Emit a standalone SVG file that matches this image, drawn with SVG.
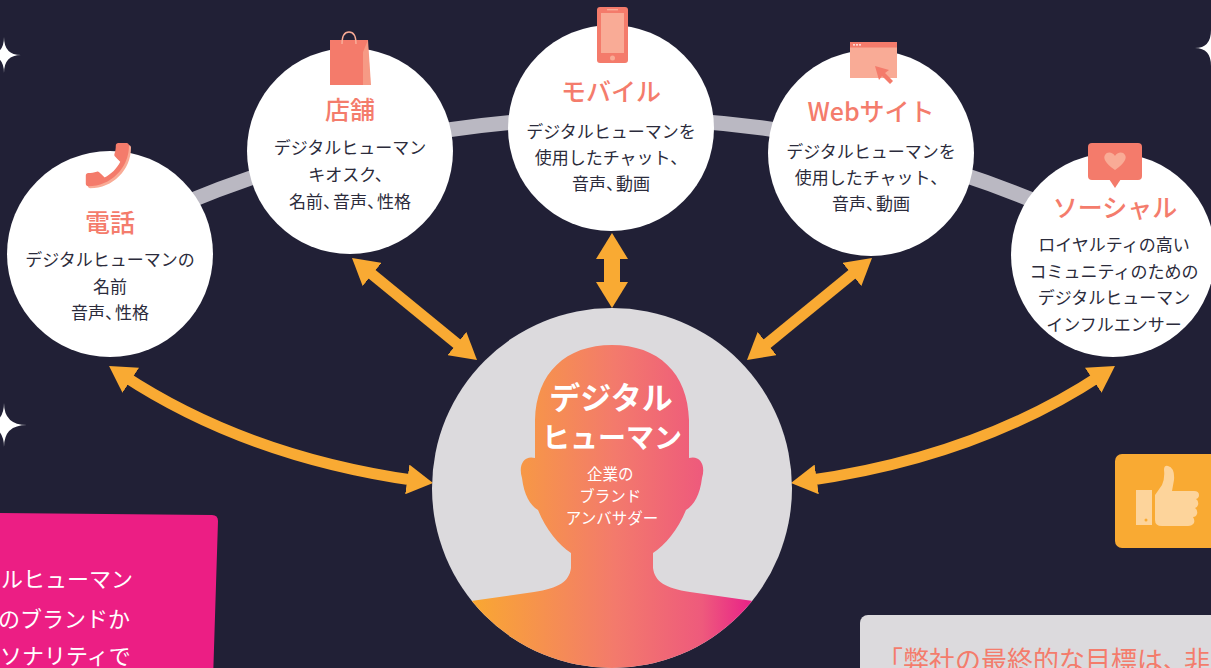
<svg xmlns="http://www.w3.org/2000/svg" width="1211" height="668" viewBox="0 0 1211 668">
  <defs>
    <style>
      .sat { fill: #ffffff; }
      .title { font-family: "Noto Sans CJK JP", "Noto Sans", sans-serif; font-size: 25px; font-weight: 500; fill: #f47c6c; text-anchor: middle; }
      .body { font-family: "Noto Sans CJK JP", "Noto Sans", sans-serif; font-size: 17px; fill: #2b2b3b; text-anchor: middle; }
      .pn { letter-spacing: -7px; }
      .link { fill: none; stroke: #f9aa33; stroke-width: 11; }
      .ico { fill: #f47b6b; }
      .ico-l { fill: #f9ab96; }
      .star { fill: #ffffff; }
    </style>
    <marker id="head" viewBox="0 0 26 30" markerWidth="26" markerHeight="30" markerUnits="userSpaceOnUse" refX="10" refY="15" orient="auto-start-reverse">
      <path d="M0,0 L26,15 L0,30 Z" fill="#f9aa33"/>
    </marker>
    <marker id="head-wide" viewBox="0 0 26 32" markerWidth="26" markerHeight="32" markerUnits="userSpaceOnUse" refX="8" refY="16" orient="auto-start-reverse">
      <path d="M0,0 L26,16 L0,32 Z" fill="#f9aa33"/>
    </marker>
    <linearGradient id="bust" gradientUnits="userSpaceOnUse" x1="470" y1="0" x2="760" y2="0">
      <stop offset="0" stop-color="#f9a831"/>
      <stop offset="0.5" stop-color="#f37a6c"/>
      <stop offset="0.8" stop-color="#ee5a7c"/>
      <stop offset="1" stop-color="#e8188a"/>
    </linearGradient>
    <clipPath id="hub-clip">
      <circle cx="612" cy="488" r="180"/>
    </clipPath>
    <!-- telephone handset glyph (Material "call" outline) -->
    <path id="handset" d="M6.62 10.79c1.44 2.83 3.76 5.14 6.59 6.59l2.2-2.2c.27-.27.67-.36 1.02-.24 1.12.37 2.330.57 3.57.57.55 0 1 .45 1 1V20c0 .55-.45 1-1 1-9.39 0-17-7.610-17-17 0-.55.45-1 1-1h3.5c.55 0 1 .45 1 1 0 1.25.2 2.45.57 3.57.11.35.03.74-.25 1.020l-2.2 2.2z"/>
  </defs>

  <!-- backdrop -->
  <rect x="0" y="0" width="1211" height="668" fill="#212036"/>

  <!-- sparkles -->
  <path class="star" d="M4,37 Q4,55 21,55 Q4,55 4,73 Q4,55 -13,55 Q4,55 4,37 Z"/>
  <path class="star" d="M4,403 Q4,425 27,425 Q4,425 4,447 Q4,425 -19,425 Q4,425 4,403 Z"/>
  <path class="star" d="M1211,30 Q1211,48 1195,48 Q1211,48 1211,66 Z"/>

  <!-- ring that ties the channels together -->
  <path d="M 180 204.9 A 1117 1117 0 0 1 1044 204.9" fill="none" stroke="#bab8c2" stroke-width="15"/>

  <!-- connectors -->
  <g id="connectors">
    <path class="link" d="M 122.4 374.8 Q 247 457 417.2 480.8" marker-start="url(#head)" marker-end="url(#head)"/>
    <path class="link" d="M 364.4 268.1 L 464.6 349.9" marker-start="url(#head)" marker-end="url(#head)"/>
    <path class="link" d="M 612 251 L 612 290" style="stroke-width:16" marker-start="url(#head-wide)" marker-end="url(#head-wide)"/>
    <path class="link" d="M 859.6 268.1 L 759.4 349.9" marker-start="url(#head)" marker-end="url(#head)"/>
    <path class="link" d="M 1101.6 374.8 Q 977 457 806.8 480.8" marker-start="url(#head)" marker-end="url(#head)"/>
  </g>

  <!-- hub: digital human -->
  <g id="hub">
    <circle cx="612" cy="488" r="180" fill="#dcdadd"/>
    <path clip-path="url(#hub-clip)" fill="url(#bust)" d="M 612 345 C 658 345 688 373 689 420 L 689 458 C 700 455 706 465 702 478 C 700 495 694 505 686 510 C 678 530 665 545 653 553 L 653 568 C 655 582 665 588 690 592 L 760 602 L 760 700 L 464 700 L 464 602 L 534 592 C 559 588 569 582 571 568 L 571 553 C 559 545 546 530 538 510 C 530 505 524 495 522 478 C 518 465 524 455 535 458 L 535 420 C 536 373 566 345 612 345 Z"/>
    <text x="611" y="409" font-family="'Noto Sans CJK JP', sans-serif" font-size="31" font-weight="bold" fill="#ffffff" text-anchor="middle">デジタル</text>
    <text x="612" y="448" font-family="'Noto Sans CJK JP', sans-serif" font-size="28" font-weight="bold" fill="#ffffff" text-anchor="middle">ヒューマン</text>
    <text font-family="'Noto Sans CJK JP', sans-serif" font-size="15.5" fill="#ffffff" text-anchor="middle">
      <tspan x="612" y="480">企業の</tspan>
      <tspan x="612" y="502">ブランド</tspan>
      <tspan x="612" y="524">アンバサダー</tspan>
    </text>
  </g>

  <!-- channel: phone -->
  <g id="node-phone">
    <circle class="sat" cx="110" cy="254" r="103"/>
    <use href="#handset" fill="#f9ab96" transform="translate(138.2,137.8) scale(-2.4,2.4)"/>
    <use href="#handset" fill="#f47b6b" transform="translate(136.2,135.8) scale(-2.4,2.4)"/>
    <text class="title" x="110" y="232">電話</text>
    <text class="body"><tspan x="110" y="266">デジタルヒューマンの</tspan><tspan x="110" y="293">名前</tspan><tspan x="110" y="319">音声<tspan class="pn">、</tspan>性格</tspan></text>
  </g>

  <!-- channel: store -->
  <g id="node-store">
    <circle class="sat" cx="350" cy="151" r="103"/>
    <rect class="ico" x="330" y="40" width="38" height="45"/>
    <path d="M 363 52 L 368 40 L 371 85 L 363 85 Z" fill="#f69a85"/>
    <path d="M 342 44 Q 342 32 349 32 Q 356 32 356 44" fill="none" stroke="#f9ab96" stroke-width="1.5"/>
    <text class="title" x="350" y="119">店舗</text>
    <text class="body"><tspan x="350" y="154">デジタルヒューマン</tspan><tspan x="350" y="181">キオスク、</tspan><tspan x="350" y="208">名前<tspan class="pn">、</tspan>音声<tspan class="pn">、</tspan>性格</tspan></text>
  </g>

  <!-- channel: mobile -->
  <g id="node-mobile">
    <circle class="sat" cx="611" cy="128" r="103"/>
    <rect class="ico" x="597" y="7" width="31" height="56" rx="3"/>
    <rect class="ico-l" x="601" y="13" width="23" height="40"/>
    <rect class="ico-l" x="607" y="9" width="11" height="1.4"/>
    <circle class="ico-l" cx="612.5" cy="58" r="2.5"/>
    <text class="title" x="611" y="101">モバイル</text>
    <text class="body"><tspan x="611" y="138">デジタルヒューマンを</tspan><tspan x="611" y="164">使用したチャット、</tspan><tspan x="611" y="190">音声<tspan class="pn">、</tspan>動画</tspan></text>
  </g>

  <!-- channel: website -->
  <g id="node-web">
    <circle class="sat" cx="871" cy="153" r="103"/>
    <rect class="ico-l" x="850" y="42" width="47" height="36"/>
    <rect class="ico" x="850" y="42" width="47" height="5.5"/>
    <circle cx="854" cy="44.8" r="0.9" fill="#ffffff"/>
    <circle cx="857" cy="44.8" r="0.9" fill="#ffffff"/>
    <circle cx="860" cy="44.8" r="0.9" fill="#ffffff"/>
    <path class="ico" d="M 875 66 L 889 70 L 885 73 L 893 81 L 890 84 L 882 76 L 879 80 Z"/>
    <text class="title" x="871" y="121">Webサイト</text>
    <text class="body"><tspan x="871" y="158">デジタルヒューマンを</tspan><tspan x="871" y="184">使用したチャット、</tspan><tspan x="871" y="210">音声<tspan class="pn">、</tspan>動画</tspan></text>
  </g>

  <!-- channel: social -->
  <g id="node-social">
    <circle class="sat" cx="1113" cy="255" r="102"/>
    <rect class="ico" x="1088" y="143" width="54" height="37" rx="4"/>
    <path class="ico" d="M 1109 179 L 1121 179 L 1115 188 Z"/>
    <path class="ico-l" d="M 1115 170 C 1105 163 1103 158 1105 155 C 1107 151 1113 152 1115 156 C 1117 152 1123 151 1125 155 C 1127 158 1125 163 1115 170 Z"/>
    <text class="title" x="1115" y="217">ソーシャル</text>
    <text class="body"><tspan x="1114" y="251">ロイヤルティの高い</tspan><tspan x="1114" y="278">コミュニティのための</tspan><tspan x="1114" y="304">デジタルヒューマン</tspan><tspan x="1114" y="331">インフルエンサー</tspan></text>
  </g>

  <!-- pink caption card -->
  <g id="card-pink">
    <path d="M -10 513 L 212 515 Q 218 515 218 521 L 213 680 L -10 680 Z" fill="#ec1e84"/>
    <text font-family="'Noto Sans CJK JP', sans-serif" font-size="22" fill="#ffffff">
      <tspan x="1" y="587">ルヒューマン</tspan>
      <tspan x="-2" y="627">のブランドか</tspan>
      <tspan x="0" y="664">ソナリティで</tspan>
    </text>
  </g>

  <!-- thumbs-up badge -->
  <g id="badge-like">
    <rect x="1115" y="454" width="120" height="94" rx="7" fill="#f9aa33"/>
    <rect x="1136" y="490" width="16" height="35" fill="#fdd49b"/>
    <circle cx="1146" cy="520" r="1.5" fill="#f9aa33"/>
    <path fill="#fdd49b" d="M 1155 495 L 1162 485 Q 1165 478 1164 470 Q 1164 465 1168 466 Q 1175 468 1174 480 L 1172 491 L 1194 491 Q 1199 491 1199 495 Q 1199 498 1196 499 Q 1199 501 1198 505 Q 1197 508 1195 508 Q 1198 510 1197 514 Q 1196 517 1193 517 Q 1195 520 1194 523 Q 1192 526 1188 526 L 1162 526 Q 1155 526 1155 520 Z"/>
  </g>

  <!-- quote card -->
  <g id="card-quote">
    <rect x="860" y="615" width="400" height="80" rx="8" fill="#dcdadd"/>
    <text x="877" y="670" font-family="'Noto Sans CJK JP', sans-serif" font-size="26" fill="#f47c6c">「弊社の最終的な目標は<tspan style="letter-spacing:-5px">、</tspan>非</text>
  </g>
</svg>
